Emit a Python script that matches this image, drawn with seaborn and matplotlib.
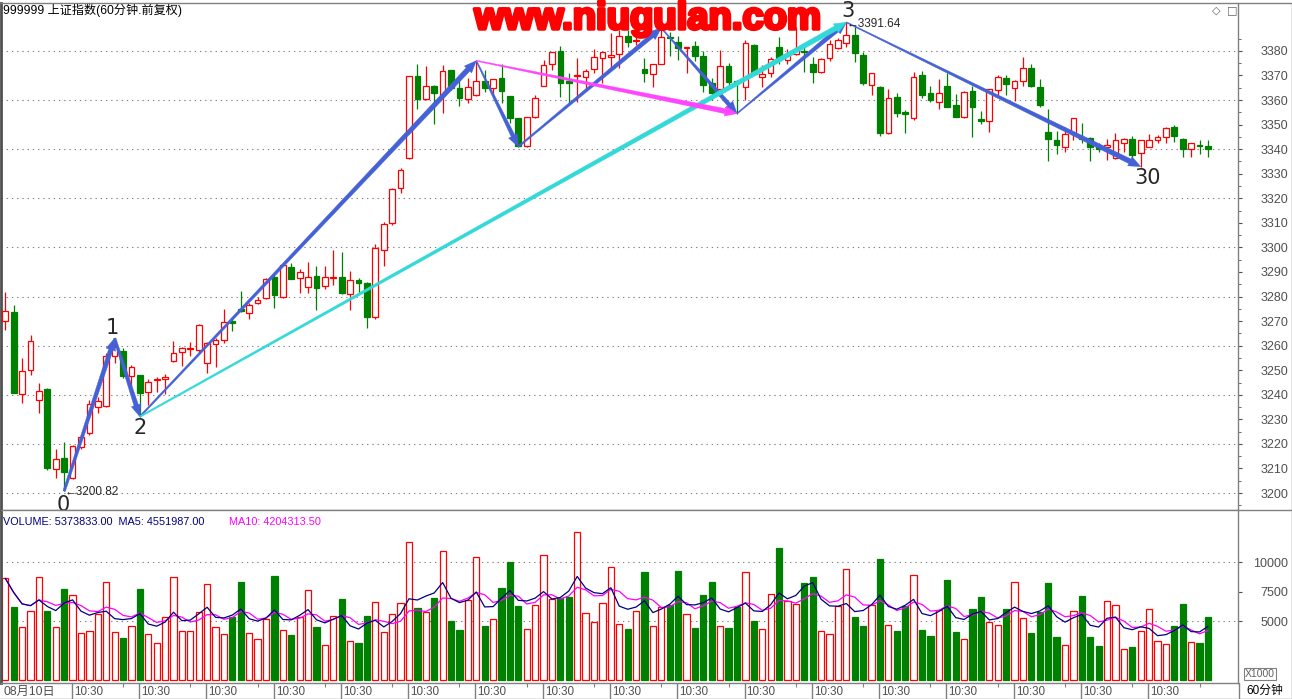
import numpy as np
import pandas as pd
import matplotlib
matplotlib.use("Agg")
import matplotlib.pyplot as plt
import seaborn as sns
from matplotlib.patches import Polygon
from matplotlib.transforms import IdentityTransform
from matplotlib.lines import Line2D
import matplotlib.patheffects as pe

sns.set_style("white")
plt.rcParams['font.family'] = ['Liberation Sans', 'Noto Sans CJK SC', 'DejaVu Sans']

# ---- data: 60-minute bars of the Shanghai index ----
opens = [3270.0, 3273.8, 3240.2, 3249.9, 3237.7, 3242.3, 3209.6, 3214.1, 3206.0, 3218.6,
         3224.6, 3234.9, 3235.4, 3255.8, 3257.8, 3247.6, 3248.0, 3241.3, 3246.0, 3246.6,
         3253.9, 3257.4, 3258.8, 3258.2, 3253.1, 3260.7, 3262.3, 3270.0, 3274.9, 3273.2,
         3277.2, 3279.3, 3288.1, 3279.9, 3292.2, 3287.4, 3283.7, 3288.4, 3284.3, 3287.6,
         3288.1, 3280.9, 3286.7, 3285.4, 3271.5, 3298.9, 3309.8, 3324.1, 3336.3, 3369.8,
         3360.3, 3365.7, 3362.1, 3372.2, 3364.8, 3360.3, 3361.9, 3367.8, 3364.8, 3368.8,
         3361.6, 3352.5, 3341.3, 3353.2, 3365.8, 3374.7, 3380.0, 3367.6, 3369.8, 3369.5,
         3372.5, 3377.0, 3377.4, 3378.6, 3386.2, 3383.9, 3372.5, 3370.4, 3374.7, 3385.8,
         3383.5, 3381.0, 3382.0, 3378.0, 3367.0, 3364.4, 3373.9, 3367.7, 3365.2, 3382.4,
         3369.2, 3370.9, 3381.7, 3376.3, 3378.7, 3380.0, 3374.7, 3371.6, 3377.0, 3381.1,
         3383.4, 3386.5, 3378.3, 3366.1, 3365.2, 3346.4, 3361.1, 3355.0, 3352.5, 3370.2,
         3362.7, 3359.1, 3365.7, 3358.0, 3353.2, 3363.7, 3352.3, 3351.5, 3364.1, 3368.8,
         3364.8, 3367.8, 3372.9, 3365.2, 3347.1, 3343.7, 3341.0, 3346.7, 3344.7, 3344.4,
         3341.3, 3340.7, 3336.3, 3342.4, 3344.0, 3338.3, 3341.0, 3343.7, 3345.1, 3348.9,
         3344.0, 3339.9, 3341.8, 3341.2]
highs = [3281.7, 3276.5, 3255.1, 3264.3, 3244.7, 3242.6, 3217.8, 3220.9, 3219.5, 3223.0,
         3237.9, 3239.2, 3256.9, 3263.0, 3258.9, 3252.1, 3248.0, 3246.3, 3247.4, 3248.5,
         3262.0, 3259.3, 3261.4, 3268.8, 3261.6, 3263.0, 3274.9, 3271.8, 3282.2, 3277.2,
         3279.9, 3287.4, 3289.4, 3293.2, 3293.8, 3291.1, 3293.9, 3292.4, 3292.6, 3298.9,
         3298.3, 3290.4, 3287.7, 3286.0, 3301.4, 3310.5, 3324.0, 3332.2, 3369.7, 3374.7,
         3373.9, 3366.1, 3374.3, 3372.2, 3368.8, 3368.8, 3376.0, 3372.2, 3368.5, 3374.7,
         3361.6, 3352.5, 3353.0, 3362.1, 3376.3, 3379.7, 3382.0, 3370.9, 3377.0, 3372.5,
         3380.8, 3379.7, 3387.2, 3388.5, 3388.5, 3387.8, 3377.0, 3374.5, 3389.3, 3387.5,
         3386.0, 3381.6, 3384.0, 3380.0, 3369.0, 3380.4, 3375.0, 3368.0, 3384.4, 3383.0,
         3374.3, 3377.7, 3385.5, 3380.6, 3389.9, 3382.4, 3377.7, 3377.0, 3384.4, 3385.4,
         3391.64, 3390.6, 3379.7, 3371.1, 3365.7, 3364.4, 3362.7, 3355.9, 3371.6, 3371.8,
         3365.7, 3368.6, 3370.9, 3362.3, 3363.5, 3365.7, 3355.5, 3364.4, 3370.2, 3370.2,
         3368.0, 3377.7, 3374.7, 3368.4, 3356.2, 3347.4, 3349.2, 3352.5, 3350.5, 3345.1,
         3342.4, 3344.0, 3346.7, 3344.4, 3345.4, 3343.7, 3346.2, 3345.8, 3349.2, 3349.8,
         3344.4, 3342.4, 3343.7, 3343.7]
lows = [3266.4, 3240.6, 3236.8, 3248.2, 3232.4, 3209.4, 3206.2, 3200.82, 3205.8, 3218.0,
        3223.6, 3232.4, 3235.0, 3253.1, 3247.0, 3243.3, 3231.1, 3236.0, 3241.3, 3240.2,
        3253.5, 3251.8, 3255.9, 3256.9, 3249.0, 3251.4, 3260.9, 3266.1, 3273.8, 3270.8,
        3277.0, 3278.9, 3275.5, 3279.6, 3287.0, 3281.3, 3281.6, 3274.5, 3282.9, 3284.7,
        3281.0, 3274.5, 3281.0, 3267.0, 3271.0, 3292.4, 3309.0, 3322.3, 3336.0, 3356.2,
        3360.0, 3350.2, 3354.9, 3364.0, 3357.7, 3358.7, 3361.5, 3363.4, 3362.1, 3358.7,
        3350.5, 3341.0, 3341.0, 3352.8, 3365.8, 3372.2, 3361.1, 3358.9, 3359.3, 3364.1,
        3370.9, 3366.8, 3372.9, 3372.9, 3381.7, 3382.4, 3367.2, 3365.2, 3374.5, 3378.0,
        3376.3, 3371.0, 3376.0, 3363.4, 3360.0, 3362.0, 3366.0, 3354.5, 3360.0, 3370.2,
        3365.2, 3369.2, 3374.5, 3374.5, 3378.3, 3371.6, 3367.1, 3371.0, 3376.0, 3380.6,
        3381.7, 3375.6, 3366.0, 3362.0, 3345.4, 3346.0, 3353.2, 3346.7, 3352.0, 3361.0,
        3359.3, 3356.4, 3357.0, 3353.0, 3352.8, 3345.1, 3350.1, 3347.1, 3362.0, 3362.0,
        3359.6, 3365.7, 3365.4, 3357.3, 3335.3, 3337.9, 3339.0, 3343.7, 3342.4, 3335.3,
        3339.0, 3335.6, 3335.9, 3339.0, 3334.9, 3332.9, 3340.7, 3342.6, 3342.6, 3343.1,
        3337.0, 3337.0, 3337.9, 3337.0]
closes = [3274.1, 3240.9, 3249.5, 3261.8, 3241.7, 3210.0, 3213.7, 3208.7, 3219.1, 3222.7,
          3236.2, 3237.3, 3255.8, 3259.6, 3247.8, 3251.2, 3240.9, 3245.3, 3246.3, 3247.1,
          3256.9, 3258.9, 3259.2, 3268.3, 3260.9, 3262.3, 3269.6, 3269.1, 3274.2, 3276.5,
          3278.6, 3287.0, 3280.5, 3292.8, 3287.3, 3290.1, 3287.8, 3283.6, 3287.8, 3287.8,
          3281.3, 3286.7, 3285.4, 3271.8, 3299.6, 3309.5, 3323.6, 3331.4, 3369.7, 3360.6,
          3365.7, 3363.0, 3372.0, 3365.0, 3361.0, 3365.2, 3367.8, 3364.8, 3368.4, 3363.8,
          3352.5, 3341.3, 3352.9, 3360.7, 3374.3, 3379.7, 3366.8, 3367.1, 3370.2, 3371.7,
          3377.4, 3379.4, 3378.3, 3386.2, 3383.7, 3384.3, 3370.9, 3374.5, 3385.5, 3385.4,
          3381.3, 3381.4, 3378.0, 3366.0, 3363.0, 3373.9, 3367.4, 3367.2, 3383.1, 3370.5,
          3370.5, 3376.6, 3376.6, 3378.6, 3380.4, 3379.4, 3371.6, 3376.6, 3382.7, 3384.4,
          3386.5, 3379.0, 3366.8, 3371.1, 3346.7, 3360.7, 3354.6, 3354.2, 3369.5, 3362.0,
          3360.0, 3362.7, 3357.3, 3353.2, 3363.1, 3357.3, 3351.5, 3364.4, 3369.5, 3366.5,
          3367.8, 3372.9, 3365.7, 3358.0, 3344.0, 3341.7, 3346.0, 3352.5, 3344.0, 3341.0,
          3339.9, 3341.7, 3343.7, 3344.0, 3337.6, 3343.7, 3343.7, 3344.8, 3348.5, 3345.4,
          3339.9, 3342.4, 3341.4, 3339.9]
# volume in units of 1000
volumes = [8616, 6215, 4520, 5848, 8729, 5848, 4464, 7712, 7204, 3955,
           4125, 5594, 8277, 4040, 3560, 4548, 7712, 3870, 3108, 5311,
           8729, 4125, 4125, 5735, 8108, 4464, 3870, 5339, 8306, 3983,
           3447, 5170, 8814, 4238, 3814, 5368, 7599, 4492, 2938, 5396,
           6865, 3277, 3136, 5424, 6582, 4068, 5594, 6498, 11667, 6074,
           5735, 6921, 10905, 5000, 4238, 6752, 10396, 4577, 5142, 7797,
           9972, 6272, 4294, 6356, 10566, 6837, 6921, 7034, 12515, 5650,
           4887, 6498, 9549, 4718, 4322, 5820, 9153, 4548, 6215, 6356,
           9238, 5594, 4407, 7204, 8306, 4548, 4407, 6215, 9125, 5000,
           4294, 7260, 11187, 6667, 6441, 8221, 8758, 4125, 3870, 6272,
           9379, 5339, 4577, 6356, 10255, 4633, 4153, 6272, 8871, 4238,
           3729, 5933, 8475, 4068, 3447, 6018, 7034, 4887, 4661, 6018,
           8277, 5226, 3983, 5735, 8221, 3644, 2938, 5848, 7119, 3644,
           2881, 6667, 6356, 2599, 2797, 4125, 5989, 3277, 3023, 4577,
           6441, 3192, 3136, 5374]

# wave pivots (bar index, 'H' = high / 'L' = low) and their labels
pivot_bars = [7, 13, 16, 56, 61, 78, 87, 100, 135]
pivot_side = ['L', 'H', 'L', 'H', 'L', 'H', 'L', 'H', 'L']
wave_labels = {7: '0', 13: '1', 16: '2', 100: '3', 135: '30'}

price_ticks = list(range(3200, 3390, 10))
grid_prices = list(range(3200, 3390, 20))
vol_ticks = [5000, 7500, 10000]
day_label = '08月10日'
time_label = '10:30'
time_label_bars = list(range(8, 144, 8))

RED = '#ff0000'
GREEN = '#008000'
BLUE = '#4461d6'
CYAN = '#33d8d8'
MAGENTA = '#ff44ff'
GRAY = '#808080'

W, H = 1292, 699
fig = plt.figure(figsize=(W / 100, H / 100), dpi=100)
fig.patch.set_facecolor('white')

ax = fig.add_axes([1 / W, 1 - 510 / H, 1237 / W, 507 / H])
axv = fig.add_axes([1 / W, 1 - 683 / H, 1237 / W, 173 / H])
axx = fig.add_axes([1 / W, 0, 1237 / W, 16 / H])

o = np.array(opens); c = np.array(closes); h = np.array(highs); l = np.array(lows)
n = len(o)
idx = np.arange(n)
up = c >= o
dn = ~up
x_lo, x_hi = -0.51, 146.57

# ---- price pane ----
ax.set_xlim(x_lo, x_hi)
ax.set_ylim(3193.1, 3399.5)
ax.hlines(grid_prices, x_lo, x_hi, colors=GRAY, linestyles=(0, (1.2, 3.5)), lw=0.8, zorder=0)
ax.vlines(idx[up], l[up], h[up], color=RED, lw=0.9, zorder=2)
ax.vlines(idx[dn], l[dn], h[dn], color=GREEN, lw=0.9, zorder=2)
body = np.maximum(np.abs(c - o), 0.35)
ax.bar(idx[up], body[up], bottom=np.minimum(o, c)[up], width=0.68,
       facecolor='white', edgecolor=RED, lw=0.9, zorder=3)
ax.bar(idx[dn], body[dn], bottom=np.minimum(o, c)[dn], width=0.68,
       facecolor=GREEN, edgecolor=GREEN, lw=0.9, zorder=3)

ax.yaxis.tick_right()
ax.set_yticks(price_ticks)
ax.set_yticklabels([str(p) for p in price_ticks])
ax.set_yticks(np.arange(3195, 3390, 5), minor=True)
ax.tick_params(axis='y', which='major', length=3, pad=33, colors='#505050', labelsize=9, right=True)
ax.tick_params(axis='y', which='minor', length=2, color='#505050', right=True)
for t in ax.get_yticklabels():
    t.set_ha('right')
ax.set_xticks([])
for s in ax.spines.values():
    s.set_color(GRAY)
    s.set_linewidth(1)
ax.spines['left'].set_color('#505050')
ax.spines['left'].set_linewidth(2)


def pivot_price(i, side):
    return h[i] if side == 'H' else l[i]


def taper_arrow(a, i0, p0, i1, p1, color, w0, w1, head_len=12, head_w=10):
    s = a.transData.transform((i0, p0))
    e = a.transData.transform((i1, p1))
    d = e - s
    d = d / np.hypot(*d)
    nrm = np.array([-d[1], d[0]])
    base = e - d * head_len
    pts = [s + nrm * w0 / 2, base + nrm * w1 / 2, base + nrm * head_w / 2, e,
           base - nrm * head_w / 2, base - nrm * w1 / 2, s - nrm * w0 / 2]
    a.add_patch(Polygon(pts, closed=True, transform=IdentityTransform(),
                        facecolor=color, edgecolor=color, lw=0.3, zorder=5, clip_on=False))


piv = [(b, pivot_price(b, s)) for b, s in zip(pivot_bars, pivot_side)]
widths = [(2.5, 4.5), (2.5, 4.5), (1.5, 5), (1, 4), (1.5, 4.5), (1, 4), (1, 4.5), (1, 5)]
for k in range(len(piv) - 1):
    taper_arrow(ax, *piv[k], *piv[k + 1], BLUE, *widths[k])
taper_arrow(ax, *piv[2], *piv[7], CYAN, 1.5, 5)
taper_arrow(ax, *piv[3], *piv[6], MAGENTA, 1, 5)

label_shift = {'0': (-1, -3), '1': (-2, 0), '2': (0, -1), '3': (1, 1), '30': (5, -1)}
for b, s in zip(pivot_bars, pivot_side):
    if b in wave_labels:
        txt = wave_labels[b]
        ax.annotate(txt, xy=(b, pivot_price(b, s)), xytext=label_shift[txt],
                    textcoords='offset points', ha='center',
                    va='bottom' if s == 'H' else 'top', fontsize=15,
                    family='DejaVu Sans', zorder=6)

for b, s in [(7, 'L'), (100, 'H')]:
    ax.annotate('←' + f'{pivot_price(b, s):.2f}', xy=(b, pivot_price(b, s)),
                xytext=(0, -1), textcoords='offset points', ha='left', va='center',
                fontsize=8.5, family=['Liberation Sans', 'DejaVu Sans'], zorder=6)

ax.text(0.002, 0.985, '999999 上证指数(60分钟.前复权)', transform=ax.transAxes,
        ha='left', va='center', fontsize=8.7, color='black')
ax.text(0.982, 0.985, '◇', transform=ax.transAxes, ha='center', va='center',
        fontsize=8, color='#606060', family='DejaVu Sans')
ax.text(0.995, 0.985, '□', transform=ax.transAxes, ha='center', va='center',
        fontsize=8, color='#606060', family='DejaVu Sans')

fig.text(648 / W, 1 - 19 / H, 'www.niugulan.com', ha='center', va='center',
         fontsize=27.5, fontweight='bold', color=RED, family='Liberation Sans',
         path_effects=[pe.withStroke(linewidth=2.5, foreground=RED)])

# ---- volume pane ----
axv.set_xlim(x_lo, x_hi)
axv.set_ylim(-254, 14407)
axv.hlines([5000, 10000], x_lo, x_hi, colors=GRAY, linestyles=(0, (1.2, 3.5)), lw=0.8, zorder=0)
v = np.array(volumes, dtype=float)
axv.bar(idx[up], v[up], width=0.74, facecolor='white', edgecolor=RED, lw=0.9, zorder=2)
axv.bar(idx[dn], v[dn], width=0.74, facecolor=GREEN, edgecolor=GREEN, lw=0.9, zorder=2)
vs = pd.Series(v)
vdf = pd.DataFrame({'bar': idx, 'ma5': vs.rolling(5, min_periods=1).mean(),
                    'ma10': vs.rolling(10, min_periods=1).mean()})
sns.lineplot(data=vdf, x='bar', y='ma5', ax=axv, color='#000080', lw=0.9, zorder=4)
sns.lineplot(data=vdf, x='bar', y='ma10', ax=axv, color='#ff00ff', lw=0.9, zorder=3)
axv.set_xlabel('')
axv.set_ylabel('')
axv.yaxis.tick_right()
axv.set_yticks(vol_ticks)
axv.set_yticklabels([str(t) for t in vol_ticks])
axv.tick_params(axis='y', which='major', length=3, pad=33, colors='#505050', labelsize=9, right=True)
for t in axv.get_yticklabels():
    t.set_ha('right')
axv.set_xticks([])
for s in axv.spines.values():
    s.set_color(GRAY)
    s.set_linewidth(1)
axv.spines['left'].set_color('#505050')
axv.spines['left'].set_linewidth(2)
axv.text(0.002, 0.93, 'VOLUME: 5373833.00  MA5: 4551987.00', transform=axv.transAxes,
         ha='left', va='center', fontsize=7.8, color='#000080')
axv.text(228 / 1237, 0.93, 'MA10: 4204313.50', transform=axv.transAxes,
         ha='left', va='center', fontsize=7.8, color='#ff00ff')

# ---- time axis row ----
axx.set_xlim(x_lo, x_hi)
axx.set_ylim(0, 1)
axx.axis('off')
axx.text(-0.25, 0.45, day_label, ha='left', va='center', fontsize=8.8, color='#505050')
for b in time_label_bars:
    axx.vlines(b - 0.1, 0, 1, color=GRAY, lw=1)
    axx.text(b + 0.15, 0.45, time_label, ha='left', va='center', fontsize=8.4, color='#505050')
axx.vlines([b - 2 for b in time_label_bars[1:]] + [142], 0.75, 1, color=GRAY, lw=0.8)

# ---- right side boxes / frame ----
fig.text(1260 / W, 1 - 674 / H, 'X1000', ha='center', va='center', fontsize=7.5,
         color='#606060', bbox=dict(boxstyle='square,pad=0.12', fc='white', ec=GRAY, lw=0.8))
fig.text(1265 / W, 1 - 691 / H, '60分钟', ha='center', va='center', fontsize=8.5, color='black')
fig.add_artist(Line2D([1238.5 / W, 1238.5 / W], [0, 16 / H], color=GRAY, lw=1))
fig.add_artist(Line2D([1291.5 / W, 1291.5 / W], [0, 1 - 3 / H], color=GRAY, lw=1))
fig.add_artist(Line2D([1238.5 / W, 1], [1 - 3 / H, 1 - 3 / H], color=GRAY, lw=1))
fig.add_artist(Line2D([1238.5 / W, 1], [1 - 510 / H, 1 - 510 / H], color=GRAY, lw=1))
fig.add_artist(Line2D([0, 1], [0.5 / H, 0.5 / H], color=GRAY, lw=1))

fig.savefig('out.png', dpi=100, facecolor='white')
